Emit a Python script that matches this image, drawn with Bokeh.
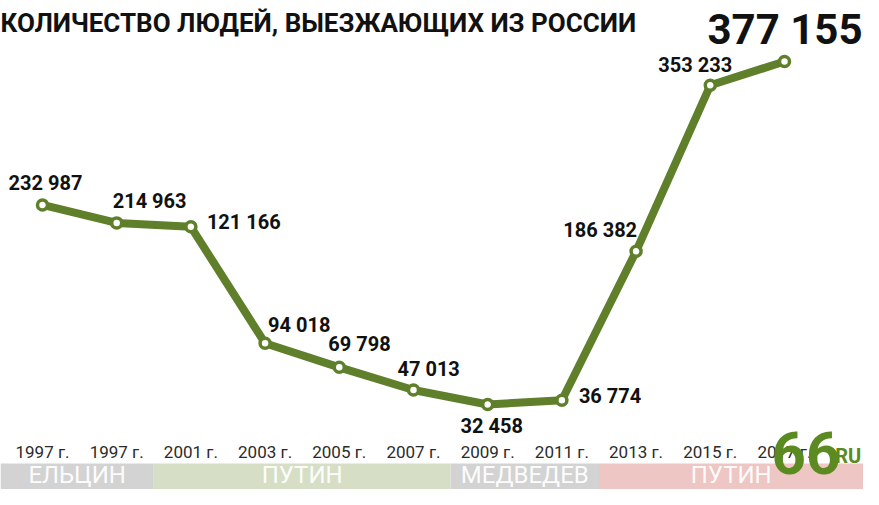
from bokeh.plotting import figure
from bokeh.models import ColumnDataSource, Range1d, Label, LabelSet, BoxAnnotation
from bokeh.core.properties import value
from bokeh.embed import file_html
from bokeh.resources import INLINE

# ---------------- data ----------------
years = ["1997 г.", "1997 г.", "2001 г.", "2003 г.", "2005 г.", "2007 г.",
         "2009 г.", "2011 г.", "2013 г.", "2015 г.", "2017 г."]
emigrants = [232987, 214963, 121166, 94018, 69798, 47013,
             32458, 36774, 186382, 353233, 377155]
# level at which the source image draws each point
# (the 2001 point is drawn near the 211 000 level, not at its label)
drawn_level = [232987, 214963, 211000, 94018, 69798, 47013,
               32458, 36774, 186382, 353233, 377155]
eras = ["ЕЛЬЦИН", "ПУТИН", "МЕДВЕДЕВ", "ПУТИН"]
era_start = [-0.566, 1.5, 5.5, 7.5]   # in year-index units
era_end = [1.5, 5.5, 7.5, 11.065]

# ---------------- style ----------------
GREEN = "#5f7f2b"
ERA_COLORS = ["#d3d3d3", "#d6dfc6", "#d3d3d3", "#eec6c3"]
label_dx = [3, -4, 16, 3, -11, -16, 4, 17, 1, -15]
label_dy = [-22, -22, -5, -18, -23, -21, 21, -4, -21, -20]
label_align = ["center", "left", "left", "left", "left", "left",
               "center", "left", "right", "center"]

W, H = 863, 489
p = figure(width=W, height=H, output_backend="svg", toolbar_location=None,
           x_range=Range1d(-0.566, 11.065), y_range=Range1d(-52962, 438456),
           x_axis_type=None, y_axis_type=None, min_border=0,
           background_fill_color="white", border_fill_color="white")
p.grid.visible = False
p.outline_line_color = None

idx = list(range(len(emigrants)))
fmt = [f"{v:,}".replace(",", " ") for v in emigrants]

# era band
for name, a, b, c in zip(eras, era_start, era_end, ERA_COLORS):
    p.add_layout(BoxAnnotation(left=a, right=b, top=463, bottom=492,
                               top_units="canvas", bottom_units="canvas",
                               fill_color=c, fill_alpha=1.0, line_color=None,
                               level="underlay"))
era_src = ColumnDataSource(dict(x=[(a + b) / 2 for a, b in zip(era_start, era_end)],
                                y=[15] * len(eras), t=eras))
p.add_layout(LabelSet(x="x", y="y", text="t", y_units="screen", source=era_src,
                      text_align="center", text_baseline="middle",
                      text_font=value("Roboto"),
                      text_font_size="24px", text_color="white", text_alpha=0.95))

# year labels
yr_src = ColumnDataSource(dict(x=idx, y=[38] * len(idx), t=years))
p.add_layout(LabelSet(x="x", y="y", text="t", y_units="screen", source=yr_src,
                      text_align="center", text_baseline="middle",
                      text_font=value("Roboto"), text_font_size="17px",
                      text_color="#2b2b2b"))

# line + markers
src = ColumnDataSource(dict(x=idx, y=drawn_level, t=fmt))
p.line("x", "y", source=src, line_color=GREEN, line_width=8, line_join="round")
p.scatter("x", "y", source=src, marker="circle", size=10, fill_color="white",
          line_color=GREEN, line_width=3.5)

# value labels
n = len(label_dx)
lab_src = ColumnDataSource(dict(x=idx[:n], y=drawn_level[:n], t=fmt[:n],
                                dx=label_dx, dy=label_dy, al=label_align))
p.text("x", "y", text="t", source=lab_src, x_offset="dx", y_offset="dy",
       text_align="al", text_baseline="middle",
       text_font=value("Roboto"), text_font_style="bold",
       text_font_size="20px", text_color="#111111")
last_src = ColumnDataSource(dict(x=idx[n:], y=drawn_level[n:], t=fmt[n:]))
p.text("x", "y", text="t", source=last_src, x_offset=78, y_offset=-32,
       text_align="right", text_baseline="middle",
       text_font=value("Roboto"), text_font_style="bold",
       text_font_size="42px", text_color="#111111")

# title
p.add_layout(Label(x=0, y=467, x_units="screen", y_units="screen",
                   text="КОЛИЧЕСТВО ЛЮДЕЙ, ВЫЕЗЖАЮЩИХ ИЗ РОССИИ",
                   text_font="Roboto", text_font_style="bold",
                   text_font_size="26px", text_color="#111111",
                   text_baseline="middle"))

# logo
p.add_layout(Label(x=771, y=37, x_units="screen", y_units="screen", text="66",
                   text_font="Roboto", text_font_style="bold",
                   text_font_size="60px", text_color="#5a8a20",
                   text_baseline="middle"))
p.add_layout(Label(x=829, y=34, x_units="screen", y_units="screen", text=".RU",
                   text_font="Roboto", text_font_style="bold",
                   text_font_size="20px", text_color="#5a8a20",
                   text_baseline="middle"))

open("out.html", "w").write(file_html(p, INLINE))
